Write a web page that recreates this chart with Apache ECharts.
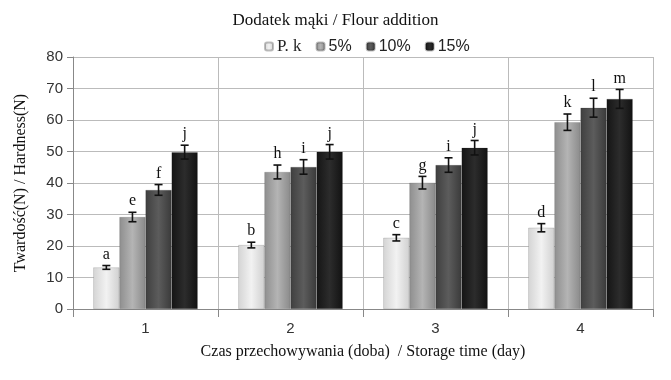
<!DOCTYPE html>
<html>
<head>
<meta charset="utf-8">
<script src="https://cdn.jsdelivr.net/npm/echarts@6/dist/echarts.min.js"></script>
<style>html,body{margin:0;padding:0;background:#fff}#c{width:671px;height:380px}</style>
</head>
<body>
<div id="c"></div>
<script>
var categories = ['1', '2', '3', '4'];
var seriesNames = ['P. k', '5%', '10%', '15%'];
var pk  = [13.2, 20.3, 22.6, 25.8];
var f5  = [29.2, 43.5, 40.1, 59.3];
var f10 = [37.8, 45.1, 45.7, 63.9];
var f15 = [49.8, 49.9, 51.2, 66.7];
var pkErr  = [0.6, 0.9, 1.0, 1.3];
var f5Err  = [1.5, 2.2, 2.0, 2.6];
var f10Err = [1.7, 2.3, 2.3, 3.0];
var f15Err = [2.2, 2.3, 2.3, 3.0];
var pkLet  = ['a', 'b', 'c', 'd'];
var f5Let  = ['e', 'h', 'g', 'k'];
var f10Let = ['f', 'i', 'i', 'l'];
var f15Let = ['j', 'j', 'j', 'm'];
var yTicks = [0, 10, 20, 30, 40, 50, 60, 70, 80];

var values = [pk, f5, f10, f15];
var errs = [pkErr, f5Err, f10Err, f15Err];
var lets = [pkLet, f5Let, f10Let, f15Let];
var colors = [
  ['#d4d4d4', '#f2f2f2', '#d0d0d0'],
  ['#8e8e8e', '#b4b4b4', '#8a8a8a'],
  ['#3f3f3f', '#5c5c5c', '#3a3a3a'],
  ['#151515', '#2c2c2c', '#121212']
];
var catGap = 0.28;

function grad(c) {
  return new echarts.graphic.LinearGradient(0, 0, 1, 0, [
    {offset: 0, color: c[0]}, {offset: 0.5, color: c[1]}, {offset: 1, color: c[2]}
  ]);
}

var series = [];
values.forEach(function (v, i) {
  series.push({
    name: seriesNames[i], type: 'bar', data: v, barGap: '0%', barCategoryGap: '28%',
    itemStyle: {color: grad(colors[i]), borderColor: 'rgba(0,0,0,0.25)', borderWidth: 0.5},
    z: 2
  });
});
values.forEach(function (v, i) {
  var d = v.map(function (val, k) { return [k, val, errs[i][k], lets[i][k]]; });
  series.push({
    type: 'custom', data: d, z: 5, silent: true,
    renderItem: function (params, api) {
      var k = api.value(0);
      var val = api.value(1);
      var e = api.value(2);
      var band = api.size([1, 0])[0];
      var bw = band * (1 - catGap) / 4;
      var cx = api.coord([k, 0])[0] - 2 * bw + (i + 0.5) * bw;
      var yTop = api.coord([k, val + e])[1];
      var yBot = api.coord([k, val - e])[1];
      var hw = 4;
      var st = {stroke: '#111', lineWidth: 1.6};
      return {
        type: 'group',
        children: [
          {type: 'line', shape: {x1: cx, y1: yTop, x2: cx, y2: yBot}, style: st},
          {type: 'line', shape: {x1: cx - hw, y1: yTop, x2: cx + hw, y2: yTop}, style: st},
          {type: 'line', shape: {x1: cx - hw, y1: yBot, x2: cx + hw, y2: yBot}, style: st},
          {type: 'text', style: {text: lets[i][k], x: cx, y: yTop - 3, textAlign: 'center', textVerticalAlign: 'bottom',
            fontFamily: 'Liberation Serif', fontSize: 16, fill: '#111'}}
        ]
      };
    }
  });
});

var chart = echarts.init(document.getElementById('c'));
chart.setOption({
  animation: false,
  title: {text: 'Dodatek mąki / Flour addition', left: 'center', top: 7,
    textStyle: {fontFamily: 'Liberation Serif', fontSize: 17, fontWeight: 'normal', color: '#111'}},
  legend: {
    data: seriesNames, top: 33, left: 259, itemWidth: 8, itemHeight: 8, itemGap: 14,
    textStyle: {fontFamily: 'Liberation Sans', fontSize: 16, color: '#222', padding: [0, 0, 0, -1],
      rich: {s: {fontFamily: 'Liberation Serif', fontSize: 17, color: '#222'}}},
    formatter: function (n) { return n === 'P. k' ? '{s|P. k}' : n; }
  },
  grid: {left: 73, right: 18, top: 57, bottom: 71},
  xAxis: {
    type: 'category', data: categories,
    name: 'Czas przechowywania (doba)  / Storage time (day)', nameLocation: 'middle', nameGap: 35,
    nameTextStyle: {fontFamily: 'Liberation Serif', fontSize: 16, color: '#111'},
    axisLine: {lineStyle: {color: '#888'}},
    axisTick: {show: true, length: 8, lineStyle: {color: '#888'}},
    splitLine: {show: true, lineStyle: {color: '#bbb'}},
    axisLabel: {fontFamily: 'Liberation Sans', fontSize: 15, color: '#333', margin: 12}
  },
  yAxis: {
    type: 'value', min: 0, max: 80, interval: 10,
    name: 'Twardość(N) / Hardness(N)', nameLocation: 'middle', nameGap: 44,
    nameTextStyle: {fontFamily: 'Liberation Serif', fontSize: 16, color: '#111'},
    axisLine: {show: true, lineStyle: {color: '#888'}},
    axisTick: {show: true, length: 6, lineStyle: {color: '#888'}},
    splitLine: {lineStyle: {color: '#bbb'}},
    axisLabel: {fontFamily: 'Liberation Sans', fontSize: 15, color: '#333', margin: 10,
      formatter: function (v) { return yTicks.indexOf(v) >= 0 ? String(v) : ''; }}
  },
  series: series
});
</script>
</body>
</html>
